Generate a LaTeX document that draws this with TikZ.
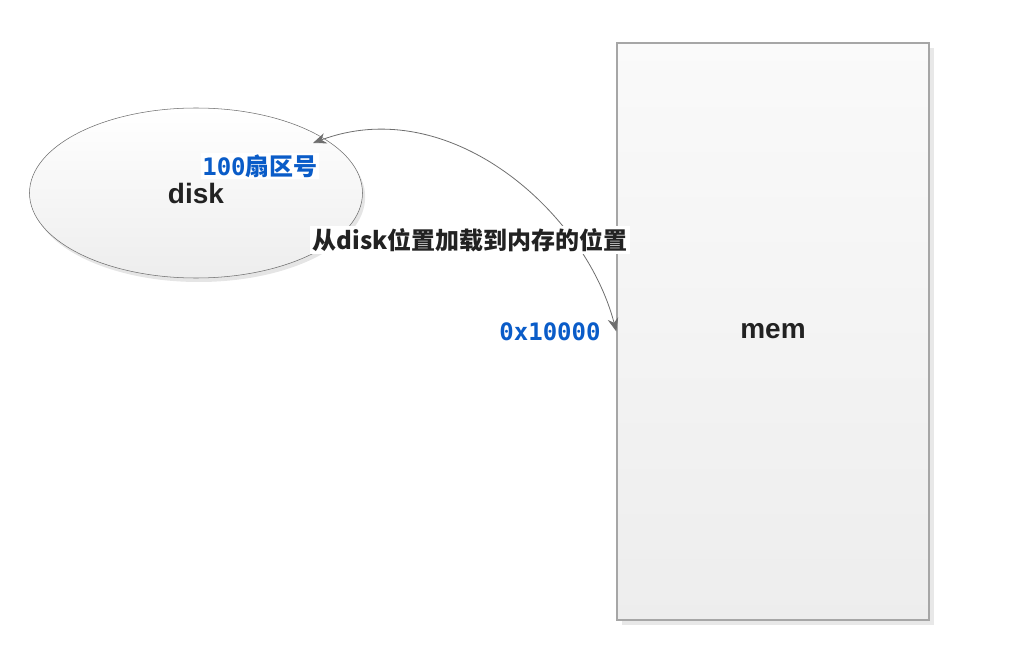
\documentclass[tikz,border=0pt]{standalone}
\usepackage{fontspec}
\setmainfont{Liberation Sans}
\newfontfamily\cjk{Noto Sans CJK SC}
\newfontfamily\mono{DejaVu Sans Mono}
\usepackage{tikz}
\usetikzlibrary{shapes.geometric}
\usetikzlibrary{shadows}
\usetikzlibrary{arrows.meta}
\definecolor{labelblue}{HTML}{0A5CC8}
\definecolor{edgegrey}{HTML}{6E6E6E}
\definecolor{textdark}{HTML}{222222}

\begin{document}
\begin{tikzpicture}[x=0.75pt, y=0.75pt,
		bigname/.style = {font=\fontsize{21}{25}\selectfont\bfseries, text=textdark},
		bluelabel/.style = {fill=white, inner sep=1pt, text=labelblue, font=\fontsize{18}{22}\selectfont\bfseries},
		boldlabel/.style = {fill=white, inner sep=2pt, text=textdark, font=\fontsize{18}{22}\selectfont\cjk\bfseries}]
		\useasboundingbox (0, 0) rectangle (1022, 662);

		\node[draw=edgegrey, ellipse, inner sep = 0pt, minimum width = 249.75pt, minimum height = 127.5pt,
			top color = white, bottom color = black!7,
			drop shadow = {fill=black!10, opacity=1, shadow xshift=2pt, shadow yshift=-3pt},
			bigname] (disk) at (196, 469) {disk};
		\node[draw=black!35, line width = 1pt, rectangle, inner sep = 0pt, minimum width = 234pt, minimum height = 432.75pt,
			top color = black!2, bottom color = black!7,
			drop shadow = {fill=black!9, opacity=1, shadow xshift=4pt, shadow yshift=-4pt},
			bigname] (mem) at (773, 330.5) {mem};

		\coordinate (sector) at (313, 519);
		\path[draw, edgegrey, line width = 0.6pt, {Stealth[length=10pt, width=8pt]}-{Stealth[length=10pt, width=8pt]}]
			(sector) .. controls (450, 570) and (585, 450) .. (mem.west);

		\node[bluelabel] (sectorlabel) at (260, 496) {\mono 100\cjk 扇区号};
		\node[boldlabel] (loadlabel) at (470, 422) {从disk位置加载到内存的位置};
		\node[bluelabel, fill=none] (addrlabel) at (550, 330) {\mono 0x10000};
\end{tikzpicture}
\end{document}
